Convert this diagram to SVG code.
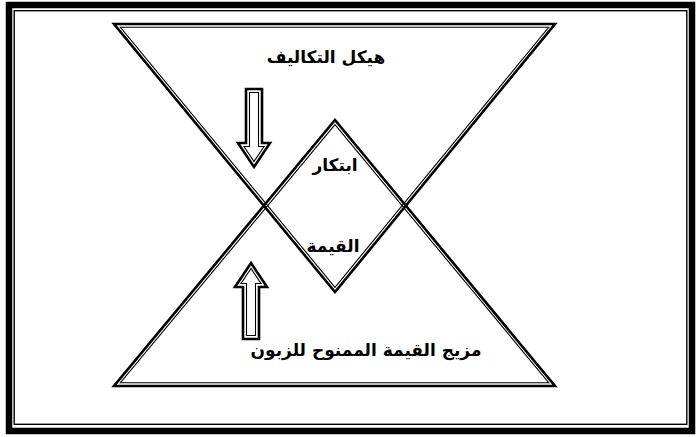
<svg xmlns="http://www.w3.org/2000/svg" width="700" height="437" viewBox="0 0 700 437">
<style>
.thick{fill:none;stroke:#000;stroke-width:2.6;stroke-linejoin:miter}
.thin{fill:none;stroke:#000;stroke-width:1.1;stroke-linejoin:miter}
.arrowOuter{fill:#fff;stroke:#000;stroke-width:2.6;stroke-linejoin:miter}
.lbl{font-family:"DejaVu Sans",sans-serif;font-weight:bold;font-size:17px;fill:#000;text-anchor:middle}
</style>
<rect x="0" y="0" width="700" height="437" fill="#fff"/>
<g id="frame">
<rect x="9" y="5" width="683" height="426" fill="none" stroke="#000" stroke-width="6.5"/>
<rect x="14.2" y="10.7" width="672.6" height="413.6" fill="none" stroke="#000" stroke-width="1.4"/>
</g>
<g id="top-triangle">
<polygon class="thick" points="114,24 555,24 335,292"/>
<polygon class="thin" points="120.4,27.3 548.7,27.3 335,287.3"/>
<text class="lbl" x="326" y="63">هيكل التكاليف</text>
</g>
<g id="bottom-triangle">
<polygon class="thick" points="114,386 555,386 335,120"/>
<polygon class="thin" points="120.4,382.7 548.7,382.7 335,124.7"/>
<text class="lbl" x="366" y="356">مزيج القيمة الممنوح للزبون</text>
</g>
<g id="value-innovation">
<text class="lbl" x="335" y="171">ابتكار</text>
<text class="lbl" x="333" y="252">القيمة</text>
</g>
<g id="arrows">
<g id="arrow-down">
<polygon class="arrowOuter" points="246,89 262,89 262,143 270,143 254,167 238,143 246,143"/>
<polygon class="thin" points="249.5,92.5 258.5,92.5 258.5,146.5 264,146.5 254,161.6 244,146.5 249.5,146.5"/>
</g>
<g id="arrow-up">
<polygon class="arrowOuter" points="251,263 267,287 259,287 259,339 243,339 243,287 235,287"/>
<polygon class="thin" points="251,268.4 261,283.5 255.5,283.5 255.5,335.5 246.5,335.5 246.5,283.5 241,283.5"/>
</g>
</g>
</svg>
